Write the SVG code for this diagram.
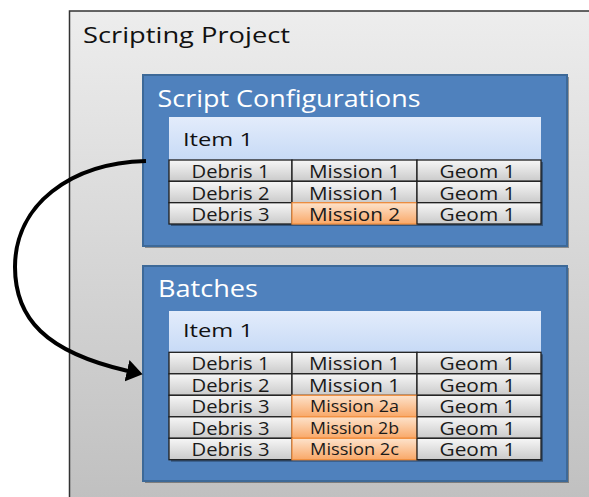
<svg xmlns="http://www.w3.org/2000/svg" width="589" height="497" viewBox="0 0 589 497">
<defs>
<linearGradient id="gOuter" x1="0" y1="0" x2="0" y2="1">
<stop offset="0" stop-color="#ededed"/><stop offset="1" stop-color="#bfbfbf"/>
</linearGradient>
<linearGradient id="gHead" x1="0" y1="0" x2="0" y2="1">
<stop offset="0" stop-color="#e3ecfb"/><stop offset="1" stop-color="#c7daf6"/>
</linearGradient>
<linearGradient id="gCell" x1="0" y1="0" x2="0" y2="1">
<stop offset="0" stop-color="#f7f7f7"/><stop offset="1" stop-color="#cacaca"/>
</linearGradient>
<linearGradient id="gOrange" x1="0" y1="0" x2="0" y2="1">
<stop offset="0" stop-color="#fde3cc"/><stop offset="1" stop-color="#f9a868"/>
</linearGradient>
<marker id="arrow" viewBox="0 0 16 22" refX="1" refY="11" markerWidth="16" markerHeight="22" markerUnits="userSpaceOnUse" orient="auto">
<path d="M0,0 L16,11 L0,22 Z" fill="#000"/>
</marker>
</defs>
<style>
.blue{fill:#4f81bd;stroke:#3d6998;stroke-width:2}
.shadow{fill:#000;opacity:0.35}
.head{fill:url(#gHead)}
.cell{fill:url(#gCell);stroke:#1e1e1e;stroke-width:1.3}
.org{fill:url(#gOrange);stroke:#f29040;stroke-width:1.3}
text{font-family:"Open Sans","Noto Sans","DejaVu Sans",sans-serif}
.title{font-size:23px;fill:#fff}
.big{font-size:22px;fill:#111}
.item{font-size:18px;fill:#111}
.c{font-size:18px;fill:#1a1a1a;text-anchor:middle}
.cs{font-size:15.5px;fill:#1a1a1a;text-anchor:middle}
</style>
<rect width="589" height="497" fill="#fff"/>
<g id="scripting-project">
<rect x="69.5" y="11" width="540" height="500" fill="url(#gOuter)" stroke="#333" stroke-width="1.5"/>
<text class="big" x="83" y="42.5" textLength="207" lengthAdjust="spacingAndGlyphs">Scripting Project</text>
</g>
<g id="script-configurations">
<rect class="shadow" x="145" y="77" width="424" height="171"/>
<rect class="blue" x="143" y="75" width="424" height="171"/>
<text class="title" x="157.5" y="107" textLength="263" lengthAdjust="spacingAndGlyphs">Script Configurations</text>
<rect class="head" x="169" y="117" width="372" height="43"/>
<text class="item" x="183" y="146" textLength="70" lengthAdjust="spacingAndGlyphs">Item 1</text>
<rect class="shadow" x="171" y="162" width="372" height="64"/>
<rect class="cell" x="169" y="160" width="123" height="21.3"/>
<rect class="cell" x="292" y="160" width="125" height="21.3"/>
<rect class="cell" x="417" y="160" width="124" height="21.3"/>
<rect class="cell" x="169" y="181.3" width="123" height="21.4"/>
<rect class="cell" x="292" y="181.3" width="125" height="21.4"/>
<rect class="cell" x="417" y="181.3" width="124" height="21.4"/>
<rect class="cell" x="169" y="202.7" width="123" height="21.3"/>
<rect class="org" x="292" y="202.7" width="125" height="21.3"/>
<rect class="cell" x="417" y="202.7" width="124" height="21.3"/>
<text class="c" x="230.5" y="178.3" textLength="78" lengthAdjust="spacingAndGlyphs">Debris 1</text>
<text class="c" x="354.5" y="178.3" textLength="91" lengthAdjust="spacingAndGlyphs">Mission 1</text>
<text class="c" x="477.5" y="178.3" textLength="76" lengthAdjust="spacingAndGlyphs">Geom 1</text>
<text class="c" x="230.5" y="199.7" textLength="78" lengthAdjust="spacingAndGlyphs">Debris 2</text>
<text class="c" x="354.5" y="199.7" textLength="91" lengthAdjust="spacingAndGlyphs">Mission 1</text>
<text class="c" x="477.5" y="199.7" textLength="76" lengthAdjust="spacingAndGlyphs">Geom 1</text>
<text class="c" x="230.5" y="221" textLength="78" lengthAdjust="spacingAndGlyphs">Debris 3</text>
<text class="c" x="354.5" y="221" textLength="91" lengthAdjust="spacingAndGlyphs">Mission 2</text>
<text class="c" x="477.5" y="221" textLength="76" lengthAdjust="spacingAndGlyphs">Geom 1</text>
</g>
<g id="batches">
<rect class="shadow" x="145" y="268" width="424" height="215"/>
<rect class="blue" x="143" y="266" width="424" height="215"/>
<text class="title" x="158" y="297" textLength="100" lengthAdjust="spacingAndGlyphs">Batches</text>
<rect class="head" x="169" y="311" width="372" height="41.3"/>
<text class="item" x="183" y="337.3" textLength="70" lengthAdjust="spacingAndGlyphs">Item 1</text>
<rect class="shadow" x="171" y="354.3" width="372" height="107.4"/>
<rect class="cell" x="169" y="352.3" width="123" height="21.5"/>
<rect class="cell" x="292" y="352.3" width="125" height="21.5"/>
<rect class="cell" x="417" y="352.3" width="124" height="21.5"/>
<rect class="cell" x="169" y="373.8" width="123" height="21.5"/>
<rect class="cell" x="292" y="373.8" width="125" height="21.5"/>
<rect class="cell" x="417" y="373.8" width="124" height="21.5"/>
<rect class="cell" x="169" y="395.3" width="123" height="21.5"/>
<rect class="org" x="292" y="395.3" width="125" height="21.5"/>
<rect class="cell" x="417" y="395.3" width="124" height="21.5"/>
<rect class="cell" x="169" y="416.8" width="123" height="21.5"/>
<rect class="org" x="292" y="416.8" width="125" height="21.5"/>
<rect class="cell" x="417" y="416.8" width="124" height="21.5"/>
<rect class="cell" x="169" y="438.3" width="123" height="21.4"/>
<rect class="org" x="292" y="438.3" width="125" height="21.4"/>
<rect class="cell" x="417" y="438.3" width="124" height="21.4"/>
<text class="c" x="230.5" y="370.3" textLength="78" lengthAdjust="spacingAndGlyphs">Debris 1</text>
<text class="c" x="354.5" y="370.3" textLength="91" lengthAdjust="spacingAndGlyphs">Mission 1</text>
<text class="c" x="477.5" y="370.3" textLength="76" lengthAdjust="spacingAndGlyphs">Geom 1</text>
<text class="c" x="230.5" y="391.8" textLength="78" lengthAdjust="spacingAndGlyphs">Debris 2</text>
<text class="c" x="354.5" y="391.8" textLength="91" lengthAdjust="spacingAndGlyphs">Mission 1</text>
<text class="c" x="477.5" y="391.8" textLength="76" lengthAdjust="spacingAndGlyphs">Geom 1</text>
<text class="c" x="230.5" y="413.3" textLength="78" lengthAdjust="spacingAndGlyphs">Debris 3</text>
<text class="cs" x="354.5" y="412" textLength="89" lengthAdjust="spacingAndGlyphs">Mission 2a</text>
<text class="c" x="477.5" y="413.3" textLength="76" lengthAdjust="spacingAndGlyphs">Geom 1</text>
<text class="c" x="230.5" y="434.8" textLength="78" lengthAdjust="spacingAndGlyphs">Debris 3</text>
<text class="cs" x="354.5" y="433.5" textLength="89" lengthAdjust="spacingAndGlyphs">Mission 2b</text>
<text class="c" x="477.5" y="434.8" textLength="76" lengthAdjust="spacingAndGlyphs">Geom 1</text>
<text class="c" x="230.5" y="456.3" textLength="78" lengthAdjust="spacingAndGlyphs">Debris 3</text>
<text class="cs" x="354.5" y="455" textLength="89" lengthAdjust="spacingAndGlyphs">Mission 2c</text>
<text class="c" x="477.5" y="456.3" textLength="76" lengthAdjust="spacingAndGlyphs">Geom 1</text>
</g>
<g id="connectors">
<path d="M146,161 C70,163 15,205 15,267 C15,318 45,352 128,371" fill="none" stroke="#000" stroke-width="4" marker-end="url(#arrow)"/>
</g>
</svg>
